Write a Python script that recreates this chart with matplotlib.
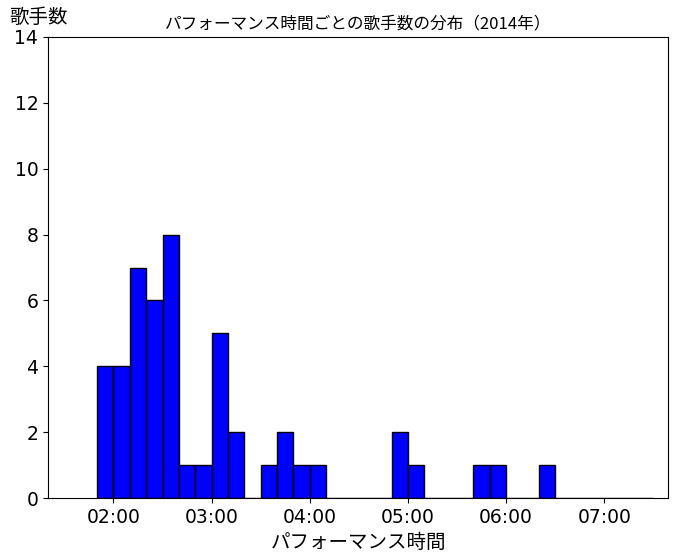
import numpy as np
import matplotlib.pyplot as plt
from matplotlib.ticker import FuncFormatter

plt.rcParams['font.family'] = ['Noto Sans CJK JP', 'DejaVu Sans']

# 10秒ごとのビン（開始秒）と歌手数
bin_start = list(range(110, 450, 10))
counts = [4, 4, 7, 6, 8, 1, 1, 5, 2, 0,
          1, 2, 1, 1, 0, 0, 0, 0, 2, 1,
          0, 0, 0, 1, 1, 0, 0, 1, 0, 0,
          0, 0, 0, 0]
tick_secs = [120, 180, 240, 300, 360, 420]

edges = bin_start + [bin_start[-1] + 10]
centers = [b + 5 for b in bin_start]

fig = plt.figure(figsize=(6.78, 5.6), dpi=100)
ax = fig.add_axes([48 / 678, 1 - 498 / 560, 620 / 678, 461 / 560])

ax.hist(centers, bins=edges, weights=counts, color='#0000ff', edgecolor='black')

ax.set_xlim(80, 459)
ax.set_ylim(0, 14)
ax.set_xticks(tick_secs)
ax.xaxis.set_major_formatter(FuncFormatter(lambda s, p: f"{int(s) // 60:02d}:{int(s) % 60:02d}"))
ax.set_yticks(range(0, 15, 2))
ax.tick_params(labelsize=13.5)
for lbl in ax.get_xticklabels() + ax.get_yticklabels():
    lbl.set_family('DejaVu Sans')

ax.set_title('パフォーマンス時間ごとの歌手数の分布（2014年）', fontsize=12)
ax.set_xlabel('パフォーマンス時間', fontsize=14)
ax.set_ylabel('歌手数', fontsize=14, rotation=0, ha='center', va='center')
ax.yaxis.set_label_coords(-0.015, 1.043)

fig.savefig('out.png', dpi=100)
